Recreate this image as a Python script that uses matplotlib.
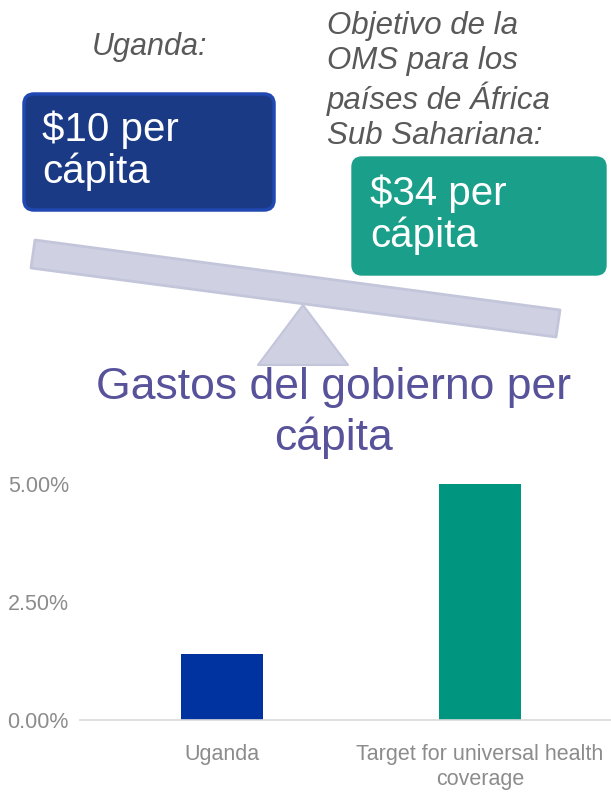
import matplotlib
matplotlib.use("Agg")
import matplotlib.pyplot as plt
from matplotlib.patches import FancyBboxPatch, Polygon
from matplotlib.ticker import PercentFormatter

# data
categories = ["Uganda", "Target for universal health\ncoverage"]
values = [0.014, 0.05]
bar_colors = ["#0033a0", "#00957f"]
yticks = [0.0, 0.025, 0.05]

font = ["Liberation Sans", "DejaVu Sans"]

fig = plt.figure(figsize=(6.11, 7.92), dpi=100)

# drawing layer in pixel coords
bg = fig.add_axes([0, 0, 1, 1])
bg.set_xlim(0, 611)
bg.set_ylim(792, 0)
bg.axis("off")

lav = "#cfd1e3"
beam = Polygon([(35, 240), (560, 310), (556, 337), (31, 268)], closed=True,
               facecolor=lav, edgecolor="#c3c5db", lw=2, joinstyle="round")
bg.add_patch(beam)
fulcrum = Polygon([(303, 305), (348, 365), (258, 365)], closed=True,
                  facecolor=lav, edgecolor="#c3c5db", lw=1.5, joinstyle="round")
bg.add_patch(fulcrum)

box1 = FancyBboxPatch((24, 94), 250, 116, boxstyle="round,pad=0,rounding_size=10",
                      facecolor="#1b3a85", edgecolor="#1f48b0", lw=2.5)
bg.add_patch(box1)
box2 = FancyBboxPatch((352, 157), 254, 118, boxstyle="round,pad=0,rounding_size=10",
                      facecolor="#1aa08a", edgecolor="#1aa08a", lw=1)
bg.add_patch(box2)

bg.text(42, 151, "$10 per\ncápita", color="white", fontsize=29, family=font,
        ha="left", va="center", linespacing=1.1)
bg.text(370, 215, "$34 per\ncápita", color="white", fontsize=29, family=font,
        ha="left", va="center", linespacing=1.1)

bg.text(149, 47, "Uganda:", color="#595959", fontsize=22, style="italic",
        family=font, ha="center", va="center")
bg.text(327, 81, "Objetivo de la\nOMS para los\npaíses de África\nSub Sahariana:",
        color="#595959", fontsize=22.5, style="italic", family=font,
        ha="left", va="center", linespacing=1.2)

bg.text(333, 413, "Gastos del gobierno per\ncápita", color="#57529a", fontsize=32,
        family=font, ha="center", va="center", linespacing=1.25)

# bar chart
ax = fig.add_axes([80 / 611, 1 - 720 / 792, 1 - 80 / 611, 236 / 792])
ax.bar(range(len(categories)), values, width=0.315, color=bar_colors)
ax.set_xlim(-0.55, 1.508)
ax.set_ylim(0, 0.05)
ax.set_yticks(yticks)
ax.yaxis.set_major_formatter(PercentFormatter(1.0, decimals=2))
ax.set_xticks(range(len(categories)))
ax.set_xticklabels(categories, linespacing=1.3)
for s in ["top", "right", "left"]:
    ax.spines[s].set_visible(False)
ax.spines["bottom"].set_color("#d9d9d9")
ax.spines["bottom"].set_linewidth(1.2)
ax.tick_params(length=0, colors="#8c8c8c", labelsize=15.5)
ax.tick_params(axis="y", pad=8)
ax.tick_params(axis="x", pad=17)
for lab in ax.get_xticklabels() + ax.get_yticklabels():
    lab.set_family(font)

fig.savefig("out.png", dpi=100)
